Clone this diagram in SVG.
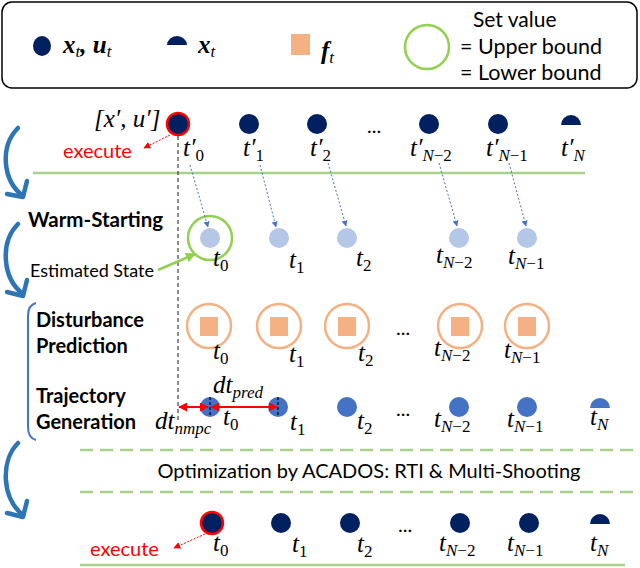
<svg xmlns="http://www.w3.org/2000/svg" width="640" height="568" viewBox="0 0 640 568">
<style>
.t{font-family:Lato,"Liberation Sans",sans-serif;fill:#000}
.b{font-weight:bold}
.m{font-family:"Liberation Serif","DejaVu Serif",serif;font-style:italic;font-size:25px;fill:#000}
.mb{font-family:"Liberation Serif","DejaVu Serif",serif;font-style:italic;font-weight:bold;font-size:25px;fill:#000}
.s{font-size:17px}
.u{font-style:normal}
.navy{fill:#002060}
.lb{fill:#b4c7e7}
.mbl{fill:#4472c4}
.ring{fill:none;stroke:#f4b183;stroke-width:2.5}
.sq{fill:#f4b183}
.gl{stroke:#a9d18e;stroke-width:2.5;fill:none}
.gd{stroke:#a9d18e;stroke-width:2.5;fill:none;stroke-dasharray:13 7}
.ca{stroke:#2e75b6;stroke-width:4.5;fill:none;stroke-linecap:round;stroke-linejoin:round}
.red{fill:#ff0000}
</style>
<defs>
<marker id="ab" viewBox="0 0 10 10" refX="9" refY="5" markerWidth="6" markerHeight="6" orient="auto" markerUnits="userSpaceOnUse"><path d="M0 0L10 5L0 10z" fill="#4472c4"/></marker>
<marker id="ar" viewBox="0 0 10 10" refX="9" refY="5" markerWidth="7" markerHeight="7" orient="auto" markerUnits="userSpaceOnUse"><path d="M0 0L10 5L0 10z" fill="#ff0000"/></marker>
<marker id="ag" viewBox="0 0 10 10" refX="9" refY="5" markerWidth="10" markerHeight="10" orient="auto" markerUnits="userSpaceOnUse"><path d="M0 0L10 5L0 10z" fill="#92d050"/></marker>
<marker id="rr" viewBox="0 0 10 10" refX="9" refY="5" markerWidth="9" markerHeight="9" orient="auto-start-reverse" markerUnits="userSpaceOnUse"><path d="M0 0L10 5L0 10z" fill="#ff0000"/></marker>
</defs>

<g id="legend">
<rect x="2" y="2" width="635" height="86" rx="10" fill="#fff" stroke="#000" stroke-width="1.5"/>
<ellipse cx="42" cy="46" rx="9" ry="10" class="navy"/>
<text class="mb" x="63" y="53">x<tspan class="s" dy="4" font-weight="normal">t</tspan><tspan dy="-4">, u</tspan><tspan class="s" dy="4" font-weight="normal">t</tspan></text>
<path d="M167 45A10 9 0 0 1 187 45Z" class="navy"/>
<text class="mb" x="198" y="53">x<tspan class="s" dy="4" font-weight="normal">t</tspan></text>
<rect x="291" y="34" width="19" height="21" class="sq"/>
<text class="mb" x="321" y="59">f<tspan class="s" dy="4" font-weight="normal">t</tspan></text>
<ellipse cx="427" cy="47" rx="22" ry="22" fill="none" stroke="#92d050" stroke-width="2.5"/>
<text class="t" x="473" y="27" font-size="21">Set value</text>
<text class="t" x="460" y="54" font-size="21.5">= Upper bound</text>
<text class="t" x="460" y="80" font-size="21.5">= Lower bound</text>
</g>

<g id="left-arrows">
<path class="ca" d="M18 128C0 146 2 180 23 196"/>
<path class="ca" d="M7 194L23 197L27 181"/>
<path class="ca" d="M18 224C0 242 2 278 23 294"/>
<path class="ca" d="M7 292L23 296L27 280"/>
<path class="ca" d="M18 443C0 461 2 499 23 515"/>
<path class="ca" d="M7 513L23 517L27 501"/>
<path d="M36 303Q28 305 28 316L28 427Q28 438 36 440" fill="none" stroke="#4472c4" stroke-width="2"/>
</g>

<g id="labels">
<text class="t b" x="28" y="227" font-size="20.5">Warm-Starting</text>
<text class="t" x="30" y="277" font-size="18">Estimated State</text>
<text class="t b" x="36" y="327" font-size="20">Disturbance</text>
<text class="t b" x="36" y="353" font-size="20">Prediction</text>
<text class="t b" x="36" y="403" font-size="20">Trajectory</text>
<text class="t b" x="36" y="429" font-size="20">Generation</text>
<text class="t" x="369" y="478" font-size="20" text-anchor="middle">Optimization by ACADOS: RTI &amp; Multi-Shooting</text>
</g>

<g id="lines">
<line x1="33" y1="173" x2="585" y2="173" class="gl"/>
<line x1="80" y1="450" x2="640" y2="450" class="gd"/>
<line x1="80" y1="492" x2="640" y2="492" class="gd"/>
<line x1="80" y1="565" x2="625" y2="565" class="gl"/>
<line x1="178" y1="136" x2="178" y2="420" stroke="#404040" stroke-width="1.2" stroke-dasharray="4 3"/>
</g>

<g id="row-prev">
<text class="m" x="94" y="127" font-style="normal">[<tspan font-style="italic">x′</tspan>, <tspan font-style="italic">u′</tspan>]</text>
<circle cx="178" cy="124" r="11" class="navy" stroke="#ff0000" stroke-width="2.5"/>
<text class="t red" x="63" y="158" font-size="20">execute</text>
<circle cx="249" cy="124" r="10" class="navy"/>
<circle cx="317" cy="124" r="10" class="navy"/>
<text class="t" x="367" y="133" font-size="20">...</text>
<circle cx="429" cy="124" r="10" class="navy"/>
<circle cx="498" cy="124" r="10" class="navy"/>
<path d="M561 125A10 10 0 0 1 581 125Z" class="navy"/>
<text class="m" x="183" y="156">t′<tspan class="s u" dy="5">0</tspan></text>
<text class="m" x="243" y="156">t′<tspan class="s u" dy="5">1</tspan></text>
<text class="m" x="310" y="156">t′<tspan class="s u" dy="5">2</tspan></text>
<text class="m" x="410" y="156">t′<tspan class="s" dy="5">N</tspan><tspan class="s u">−2</tspan></text>
<text class="m" x="486" y="156">t′<tspan class="s" dy="5">N</tspan><tspan class="s u">−1</tspan></text>
<text class="m" x="561" y="156">t′<tspan class="s" dy="5">N</tspan></text>
</g>

<g id="row-warm">
<circle cx="210" cy="238" r="22" fill="none" stroke="#92d050" stroke-width="2.5"/>
<circle cx="210" cy="238" r="10" class="lb"/>
<circle cx="279" cy="238" r="10" class="lb"/>
<circle cx="347" cy="238" r="10" class="lb"/>
<circle cx="459" cy="238" r="10" class="lb"/>
<circle cx="527" cy="238" r="10" class="lb"/>
<text class="m" x="213" y="266">t<tspan class="s u" dy="5">0</tspan></text>
<text class="m" x="289" y="268">t<tspan class="s u" dy="5">1</tspan></text>
<text class="m" x="356" y="266">t<tspan class="s u" dy="5">2</tspan></text>
<text class="m" x="436" y="263">t<tspan class="s" dy="5">N</tspan><tspan class="s u">−2</tspan></text>
<text class="m" x="508" y="264">t<tspan class="s" dy="5">N</tspan><tspan class="s u">−1</tspan></text>
</g>

<g id="row-dist">
<circle cx="209" cy="326" r="22" class="ring"/><rect x="200" y="317" width="18" height="19" class="sq"/>
<circle cx="279" cy="326" r="22" class="ring"/><rect x="270" y="317" width="18" height="19" class="sq"/>
<circle cx="347" cy="326" r="22" class="ring"/><rect x="338" y="317" width="18" height="19" class="sq"/>
<text class="t" x="396" y="335" font-size="20">...</text>
<circle cx="460" cy="326" r="22" class="ring"/><rect x="451" y="317" width="18" height="19" class="sq"/>
<circle cx="527" cy="326" r="22" class="ring"/><rect x="518" y="317" width="18" height="19" class="sq"/>
<text class="m" x="213" y="359">t<tspan class="s u" dy="5">0</tspan></text>
<text class="m" x="289" y="362">t<tspan class="s u" dy="5">1</tspan></text>
<text class="m" x="358" y="361">t<tspan class="s u" dy="5">2</tspan></text>
<text class="m" x="434" y="356">t<tspan class="s" dy="5">N</tspan><tspan class="s u">−2</tspan></text>
<text class="m" x="504" y="358">t<tspan class="s" dy="5">N</tspan><tspan class="s u">−1</tspan></text>
</g>

<g id="row-traj">
<circle cx="210" cy="407" r="10" class="mbl"/>
<circle cx="278" cy="407" r="10" class="mbl"/>
<line x1="210" y1="397" x2="210" y2="417" stroke="#000" stroke-width="1.2" stroke-dasharray="3 2"/>
<line x1="278" y1="397" x2="278" y2="417" stroke="#000" stroke-width="1.2" stroke-dasharray="3 2"/>
<circle cx="347" cy="407" r="10" class="mbl"/>
<text class="t" x="396" y="416" font-size="20">...</text>
<circle cx="459" cy="407" r="10" class="mbl"/>
<circle cx="527" cy="407" r="10" class="mbl"/>
<path d="M590 408A10 10 0 0 1 610 408Z" class="mbl"/>
<text class="m" x="213" y="393">dt<tspan class="s" dy="5">pred</tspan></text>
<text class="m" x="155" y="429">dt<tspan class="s" dy="5">nmpc</tspan></text>
<text class="m" x="223" y="425">t<tspan class="s u" dy="5">0</tspan></text>
<text class="m" x="290" y="430">t<tspan class="s u" dy="5">1</tspan></text>
<text class="m" x="357" y="429">t<tspan class="s u" dy="5">2</tspan></text>
<text class="m" x="434" y="427">t<tspan class="s" dy="5">N</tspan><tspan class="s u">−2</tspan></text>
<text class="m" x="507" y="427">t<tspan class="s" dy="5">N</tspan><tspan class="s u">−1</tspan></text>
<text class="m" x="590" y="425">t<tspan class="s" dy="5">N</tspan></text>
</g>

<g id="row-final">
<circle cx="212" cy="523" r="11" class="navy" stroke="#ff0000" stroke-width="2.5"/>
<circle cx="281" cy="523" r="10" class="navy"/>
<circle cx="350" cy="523" r="10" class="navy"/>
<text class="t" x="398" y="532" font-size="20">...</text>
<circle cx="460" cy="523" r="10" class="navy"/>
<circle cx="529" cy="523" r="10" class="navy"/>
<path d="M590 524A10 10 0 0 1 610 524Z" class="navy"/>
<text class="t red" x="90" y="556" font-size="20">execute</text>
<text class="m" x="213" y="551">t<tspan class="s u" dy="5">0</tspan></text>
<text class="m" x="292" y="552">t<tspan class="s u" dy="5">1</tspan></text>
<text class="m" x="357" y="552">t<tspan class="s u" dy="5">2</tspan></text>
<text class="m" x="439" y="551">t<tspan class="s" dy="5">N</tspan><tspan class="s u">−2</tspan></text>
<text class="m" x="507" y="551">t<tspan class="s" dy="5">N</tspan><tspan class="s u">−1</tspan></text>
<text class="m" x="590" y="551">t<tspan class="s" dy="5">N</tspan></text>
</g>

<g id="connectors">
<line x1="190" y1="165" x2="208" y2="227" stroke="#4472c4" stroke-width="1" stroke-dasharray="2 2" marker-end="url(#ab)"/>
<line x1="260" y1="165" x2="276" y2="227" stroke="#4472c4" stroke-width="1" stroke-dasharray="2 2" marker-end="url(#ab)"/>
<line x1="328" y1="163" x2="346" y2="226" stroke="#4472c4" stroke-width="1" stroke-dasharray="2 2" marker-end="url(#ab)"/>
<line x1="439" y1="163" x2="457" y2="226" stroke="#4472c4" stroke-width="1" stroke-dasharray="2 2" marker-end="url(#ab)"/>
<line x1="509" y1="163" x2="526" y2="226" stroke="#4472c4" stroke-width="1" stroke-dasharray="2 2" marker-end="url(#ab)"/>
<line x1="170" y1="135" x2="144" y2="148" stroke="#ff0000" stroke-width="1" stroke-dasharray="2 1.5" marker-end="url(#ar)"/>
<line x1="205" y1="534" x2="174" y2="548" stroke="#ff0000" stroke-width="1" stroke-dasharray="2 1.5" marker-end="url(#ar)"/>
<line x1="158" y1="270" x2="195" y2="254" stroke="#92d050" stroke-width="2.5" marker-end="url(#ag)"/>
<line x1="179" y1="407" x2="208" y2="407" stroke="#ff0000" stroke-width="2" marker-start="url(#rr)" marker-end="url(#rr)"/>
<line x1="211" y1="407" x2="277" y2="407" stroke="#ff0000" stroke-width="2" marker-start="url(#rr)" marker-end="url(#rr)"/>
</g>
</svg>
